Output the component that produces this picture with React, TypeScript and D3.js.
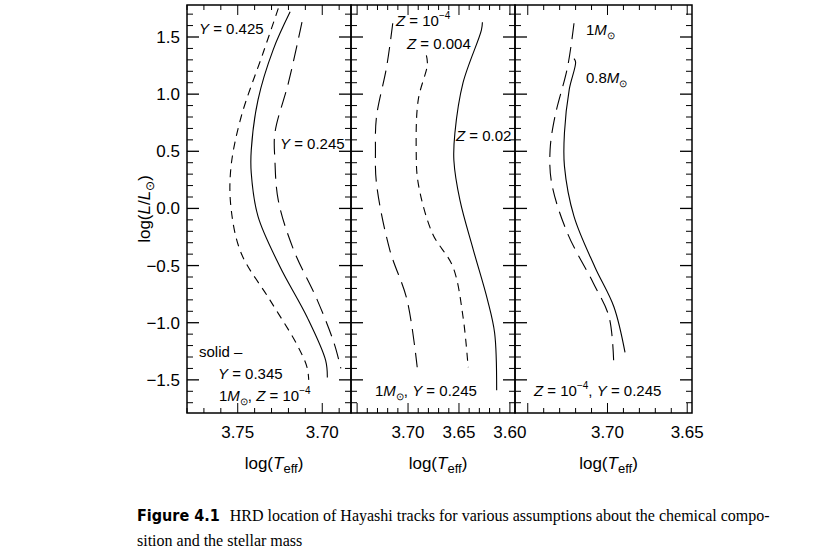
import React from "react";
import * as d3 from "d3";

type P = [number, number];
// Panel 1 (1 Msun, Z=1e-4)
const y425: P[] = [[3.726,1.75],[3.735,1.36],[3.748,0.80],[3.754,0.36],[3.754,0.01],[3.748,-0.39],[3.731,-0.80],[3.715,-1.19],[3.709,-1.39],[3.708,-1.50]];
const y345: P[] = [[3.719,1.72],[3.729,1.39],[3.738,0.95],[3.742,0.51],[3.742,0.31],[3.738,-0.07],[3.725,-0.51],[3.709,-0.95],[3.698,-1.33],[3.697,-1.48]];
const y245: P[] = [[3.712,1.63],[3.713,1.56],[3.720,1.10],[3.728,0.66],[3.728,0.42],[3.726,0.07],[3.717,-0.36],[3.703,-0.80],[3.693,-1.18],[3.689,-1.40]];
// Panel 2 (1 Msun, Y=0.245)
const z0001: P[] = [[3.715,1.62],[3.721,1.24],[3.731,0.80],[3.732,0.51],[3.731,0.22],[3.718,-0.36],[3.701,-0.80],[3.691,-1.39]];
const z004: P[] = [[3.682,1.34],[3.681,1.26],[3.690,0.95],[3.692,0.51],[3.690,0.22],[3.676,-0.22],[3.656,-0.51],[3.646,-0.95],[3.641,-1.39]];
const z02: P[] = [[3.627,1.63],[3.628,1.56],[3.646,1.10],[3.654,0.66],[3.655,0.42],[3.649,0.07],[3.636,-0.36],[3.622,-0.80],[3.615,-1.09],[3.613,-1.59]];
// Panel 3 (Z=1e-4, Y=0.245)
const m1: P[] = [[3.721,1.62],[3.725,1.24],[3.733,0.80],[3.736,0.51],[3.735,0.22],[3.725,-0.22],[3.709,-0.65],[3.699,-0.95],[3.696,-1.39]];
const m08: P[] = [[3.721,1.31],[3.720,1.28],[3.724,1.04],[3.727,0.66],[3.727,0.37],[3.721,-0.07],[3.708,-0.51],[3.696,-0.86],[3.689,-1.26]];

const yTickLabels = [1.5, 1.0, 0.5, 0.0, -0.5, -1.0, -1.5];
const p1Ticks = [3.75, 3.70];
const p2Ticks = [3.70, 3.65, 3.60];
const p3Ticks = [3.70, 3.65];

const TOP = 5, BOT = 413;
const y = d3.scaleLinear().domain([-1.79, 1.78]).range([BOT, TOP]);

const LONG = "16,8", SHORT = "8,6";
const panels = [
  { x0: 187, x1: 351, dom: [3.780, 3.683], ticks: p1Ticks,
    series: [{ d: y425, dash: SHORT }, { d: y345, dash: "" }, { d: y245, dash: LONG }] },
  { x0: 351, x1: 515, dom: [3.756, 3.595], ticks: p2Ticks,
    series: [{ d: z0001, dash: LONG }, { d: z004, dash: SHORT }, { d: z02, dash: "" }] },
  { x0: 515, x1: 692, dom: [3.758, 3.647], ticks: p3Ticks,
    series: [{ d: m1, dash: LONG }, { d: m08, dash: "" }] },
];

const F = "'Liberation Sans', Arial, sans-serif";
const Sun = () => <tspan fontStyle="normal" fontSize="10" dy="4">⊙</tspan>;
const Sup = ({ t }: { t: string }) => <tspan fontSize="10" dy="-7">{t}</tspan>;

export default function App() {
  const yMinor = d3.range(-17, 18).map((i) => i / 10);
  return (
    <svg width={816} height={551} style={{ position: "absolute", left: 0, top: 0 }} fontFamily={F}>
      <rect width={816} height={551} fill="white" />
      {panels.map((p, pi) => {
        const x = d3.scaleLinear().domain(p.dom).range([p.x0, p.x1]);
        const line = d3.line<P>().x((d) => x(d[0])).y((d) => y(d[1])).curve(d3.curveCatmullRom);
        const lo = Math.min(...p.dom), hi = Math.max(...p.dom);
        const xMinor = d3.range(Math.ceil(lo * 100), Math.floor(hi * 100) + 1).map((v) => v / 100);
        return (
          <g key={pi}>
            <rect x={p.x0} y={TOP} width={p.x1 - p.x0} height={BOT - TOP} fill="none" stroke="#000" strokeWidth={1.5} />
            {yMinor.map((v) => {
              const major = Math.abs(v * 2 - Math.round(v * 2)) < 1e-6;
              const l = major ? 12 : 6;
              return (
                <g key={v} stroke="#000" strokeWidth={major ? 1.3 : 1}>
                  <line x1={p.x0} x2={p.x0 + l} y1={y(v)} y2={y(v)} />
                  <line x1={p.x1} x2={p.x1 - l} y1={y(v)} y2={y(v)} />
                </g>
              );
            })}
            {xMinor.map((v) => {
              const major = Math.abs(v * 20 - Math.round(v * 20)) < 1e-6;
              const l = major ? 10 : 5;
              return (
                <g key={v} stroke="#000" strokeWidth={1}>
                  <line x1={x(v)} x2={x(v)} y1={BOT} y2={BOT - l} />
                  <line x1={x(v)} x2={x(v)} y1={TOP} y2={TOP + l} />
                </g>
              );
            })}
            {p.ticks.map((t) => (
              <text key={t} x={x(t)} y={438} textAnchor="middle" fontSize={17}>{t.toFixed(2)}</text>
            ))}
            <text x={(p.x0 + p.x1) / 2 + 5} y={469} textAnchor="middle" fontSize={17}>
              log(<tspan fontStyle="italic">T</tspan><tspan fontSize="13" dy="4">eff</tspan><tspan dy="-4">)</tspan>
            </text>
            {p.series.map((s, si) => (
              <path key={si} d={line(s.d) || ""} fill="none" stroke="#000" strokeWidth={1.1} strokeDasharray={s.dash} />
            ))}
          </g>
        );
      })}
      {yTickLabels.map((v) => (
        <text key={v} x={180} y={y(v) + 6} textAnchor="end" fontSize={17}>{v < 0 ? "−" + Math.abs(v).toFixed(1) : v.toFixed(1)}</text>
      ))}
      <text transform="translate(150,209) rotate(-90)" textAnchor="middle" fontSize={17}>
        log(<tspan fontStyle="italic">L</tspan>/<tspan fontStyle="italic">L</tspan><tspan fontSize="12" dy="4">⊙</tspan><tspan dy="-4">)</tspan>
      </text>
      <g fontSize={15}>
        <text x={199} y={34}><tspan fontStyle="italic">Y</tspan> = 0.425</text>
        <text x={280} y={149}><tspan fontStyle="italic">Y</tspan> = 0.245</text>
        <text x={199} y={357}>solid –</text>
        <text x={218} y={379}><tspan fontStyle="italic">Y</tspan> = 0.345</text>
        <text x={219} y={401}>1<tspan fontStyle="italic">M</tspan><Sun /><tspan dy="-4">, </tspan><tspan fontStyle="italic">Z</tspan> = 10<Sup t="−4" /></text>
        <text x={396} y={26}><tspan fontStyle="italic">Z</tspan> = 10<Sup t="−4" /></text>
        <text x={407} y={49}><tspan fontStyle="italic">Z</tspan> = 0.004</text>
        <text x={456} y={141}><tspan fontStyle="italic">Z</tspan> = 0.02</text>
        <text x={375} y={396}>1<tspan fontStyle="italic">M</tspan><Sun /><tspan dy="-4">, </tspan><tspan fontStyle="italic">Y</tspan> = 0.245</text>
        <text x={586} y={35}>1<tspan fontStyle="italic">M</tspan><Sun /></text>
        <text x={586} y={83}>0.8<tspan fontStyle="italic">M</tspan><Sun /></text>
        <text x={534} y={396}><tspan fontStyle="italic">Z</tspan> = 10<Sup t="−4" /><tspan dy="7">, </tspan><tspan fontStyle="italic">Y</tspan> = 0.245</text>
      </g>
      <text x={137} y={521} fontSize={16}>
        <tspan fontFamily="'DejaVu Sans Condensed', 'DejaVu Sans', sans-serif" fontWeight="bold">Figure 4.1</tspan>
        <tspan fontFamily="'Liberation Serif', serif" dx="10">HRD location of Hayashi tracks for various assumptions about the chemical compo-</tspan>
      </text>
      <text x={137} y={546} fontSize={16} fontFamily="'Liberation Serif', serif">sition and the stellar mass</text>
    </svg>
  );
}
